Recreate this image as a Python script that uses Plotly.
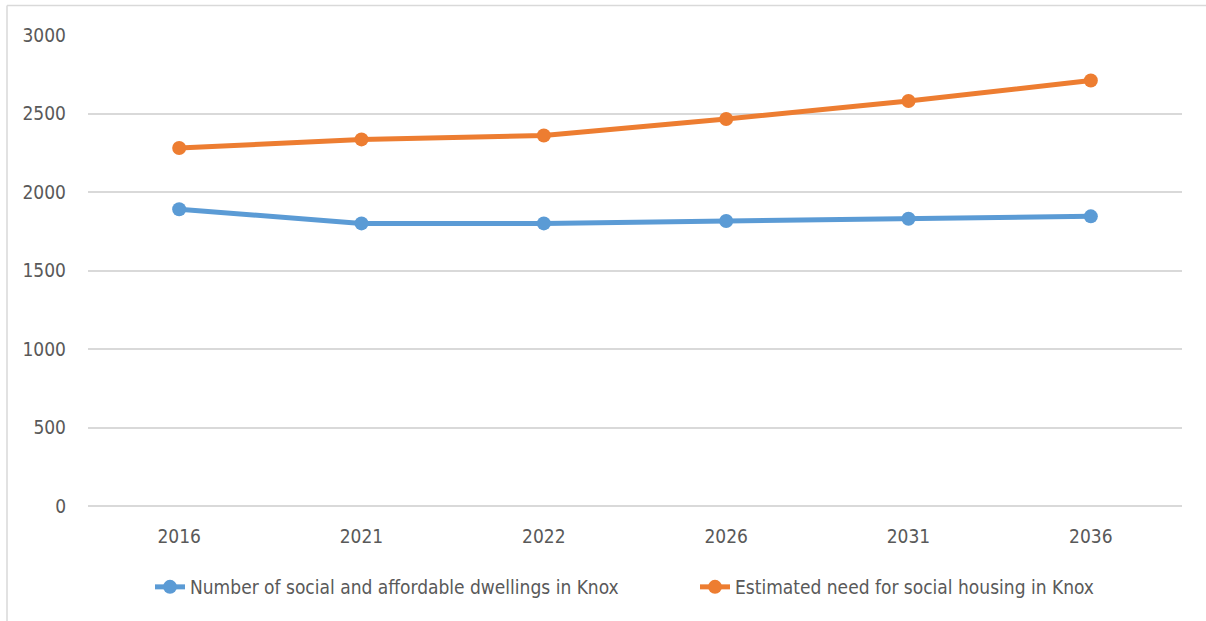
import plotly.graph_objects as go

# Years shown on the category axis
years = ["2016", "2021", "2022", "2026", "2031", "2036"]

# Dwelling counts per year
social_affordable_dwellings = [1890, 1800, 1800, 1815, 1830, 1845]
estimated_social_need = [2280, 2335, 2360, 2465, 2580, 2710]

# Value axis ticks
y_ticks = [0, 500, 1000, 1500, 2000, 2500, 3000]

FONT = "DejaVu Sans Condensed, Liberation Sans Narrow, Arial Narrow, sans-serif"
GRID = "#d9d9d9"
TEXT = "#595959"
FS = 19

fig = go.Figure()
fig.add_trace(go.Scatter(
    x=years, y=social_affordable_dwellings,
    name="Number of social and affordable dwellings in Knox",
    mode="lines+markers",
    line=dict(color="#5B9BD5", width=5),
    marker=dict(color="#5B9BD5", size=14),
))
fig.add_trace(go.Scatter(
    x=years, y=estimated_social_need,
    name="Estimated need for social housing in Knox",
    mode="lines+markers",
    line=dict(color="#ED7D31", width=5),
    marker=dict(color="#ED7D31", size=14),
))

W, H = 1206, 621
L, R, T, B = 88, 24, 35, 115
pw, ph = W - L - R, H - T - B


def px_x(x):
    return (x - L) / pw


def px_y(y):
    return (H - B - y) / ph


fig.update_layout(
    width=W, height=H,
    margin=dict(l=L, r=R, t=T, b=B, autoexpand=False),
    paper_bgcolor="white",
    plot_bgcolor="white",
    font=dict(family=FONT, size=FS, color=TEXT),
    showlegend=True,
    legend=dict(
        orientation="h",
        x=px_x(150), xanchor="left",
        y=px_y(587), yanchor="middle",
        font=dict(family=FONT, size=FS, color=TEXT),
        entrywidth=500,
        entrywidthmode="pixels",
        itemsizing="trace",
        bgcolor="rgba(0,0,0,0)",
    ),
    xaxis=dict(
        type="category",
        range=[-0.5, len(years) - 0.5],
        showgrid=False,
        showline=False,
        zeroline=False,
        ticks="",
        ticklabelstandoff=17,
        tickfont=dict(family=FONT, size=FS, color=TEXT),
    ),
    yaxis=dict(
        range=[0, 3000],
        tickvals=y_ticks,
        showgrid=True,
        gridcolor=GRID,
        gridwidth=1.5,
        zeroline=True,
        zerolinecolor=GRID,
        zerolinewidth=1.5,
        showline=False,
        ticks="",
        ticklabelstandoff=21,
        tickfont=dict(family=FONT, size=FS, color=TEXT),
    ),
    shapes=[
        # chart frame (top and left edges visible)
        dict(type="line", xref="paper", yref="paper",
             x0=px_x(7), x1=px_x(1215), y0=px_y(5.5), y1=px_y(5.5),
             line=dict(color=GRID, width=1.5)),
        dict(type="line", xref="paper", yref="paper",
             x0=px_x(7), x1=px_x(7), y0=px_y(5.5), y1=px_y(630),
             line=dict(color=GRID, width=1.5)),
    ],
)

fig.write_html("out.html")
